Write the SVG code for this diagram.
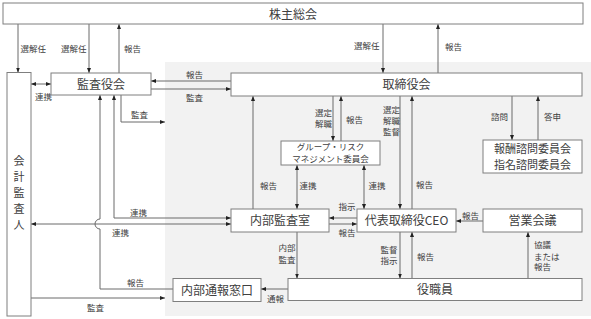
<svg xmlns="http://www.w3.org/2000/svg" width="591" height="319" viewBox="0 0 591 319">
<style>
.bx{fill:#fff;stroke:#7f7f7f;stroke-width:1}
.t{font-family:"Noto Sans CJK JP","Noto Sans",sans-serif;font-size:12px;fill:#404040;text-anchor:middle}
.v{font-size:11px}
.s{font-family:"Noto Sans CJK JP","Noto Sans",sans-serif;font-size:8.5px;fill:#404040}
.m{text-anchor:middle}
.c path{fill:none;stroke:#6a6a6a;stroke-width:1;marker-end:url(#a)}
.c path.d{marker-start:url(#a)}
</style>
<defs>
<marker id="a" viewBox="0 0 10 10" refX="10" refY="5" markerWidth="5" markerHeight="5" markerUnits="userSpaceOnUse" orient="auto-start-reverse">
<path d="M0,1 L10,5 L0,9 z" fill="#222"/>
</marker>
</defs>
<rect x="165" y="62" width="426" height="254" fill="#f2f2f2"/>
<g class="c" id="connectors">
<path d="M18,24 V72.5"/>
<path d="M89,24 V73"/>
<path d="M119,73 V24"/>
<path d="M383,24 V73"/>
<path d="M438,73 V24"/>
<path class="d" d="M31,84 H51"/>
<path d="M231,81 H151"/>
<path d="M151,89 H231"/>
<path d="M121,95 V122 H165"/>
<path d="M173,289 H100 V229 A5,5 0 0 1 100,219 V95"/>
<path class="d" d="M114,95 V218 H231"/>
<path class="d" d="M31,224 H231"/>
<path d="M253,209 V96"/>
<path d="M333,96 V141"/>
<path d="M341,141 V96"/>
<path d="M400,96 V209"/>
<path d="M412,209 V96"/>
<path d="M512,96 V140"/>
<path d="M538,140 V96"/>
<path class="d" d="M297,165 V209"/>
<path class="d" d="M364,165 V209"/>
<path d="M357,218 H329"/>
<path d="M329,224 H357"/>
<path d="M297,232 V278.5"/>
<path d="M400,232 V278.5"/>
<path d="M412,278.5 V232"/>
<path d="M483,221 H456"/>
<path d="M528,278.5 V232"/>
<path d="M288,289 H261"/>
<path d="M31,298 H165"/>
</g>
<g id="labels">
<text class="s" x="20.5" y="52">選解任</text>
<text class="s" x="61" y="52">選解任</text>
<text class="s" x="124" y="52">報告</text>
<text class="s" x="354" y="49">選解任</text>
<text class="s" x="445" y="50">報告</text>
<text class="s" x="35" y="100">連携</text>
<text class="s" x="186" y="78">報告</text>
<text class="s" x="186" y="101">監査</text>
<text class="s" x="131" y="118">監査</text>
<text class="s" x="260" y="189">報告</text>
<text class="s" x="315" y="116">選定</text>
<text class="s" x="315" y="127">解職</text>
<text class="s" x="346" y="123">報告</text>
<text class="s" x="383" y="113">選定</text>
<text class="s" x="383" y="124">解職</text>
<text class="s" x="383" y="135">監督</text>
<text class="s" x="416" y="188">報告</text>
<text class="s" x="491" y="120">諮問</text>
<text class="s" x="544" y="120">答申</text>
<text class="s" x="299.5" y="189">連携</text>
<text class="s" x="368.5" y="189">連携</text>
<text class="s" x="130" y="216">連携</text>
<text class="s" x="112" y="235.5">連携</text>
<text class="s" x="338.5" y="210">指示</text>
<text class="s" x="338.5" y="235.5">報告</text>
<text class="s" x="462" y="219">報告</text>
<text class="s" x="278.5" y="251">内部</text>
<text class="s" x="278.5" y="263">監査</text>
<text class="s" x="380.5" y="253">監督</text>
<text class="s" x="380.5" y="264">指示</text>
<text class="s" x="417" y="260">報告</text>
<text class="s" x="534" y="248">協議</text>
<text class="s" x="534" y="259.5">または</text>
<text class="s" x="534" y="270">報告</text>
<text class="s" x="127" y="286">報告</text>
<text class="s" x="267" y="302">通報</text>
<text class="s" x="87" y="311">監査</text>
</g>
<g id="shareholders"><rect class="bx" x="3" y="3" width="580" height="21"/><text class="t" x="293" y="18.5">株主総会</text></g>
<g id="auditor"><rect class="bx" x="7" y="72.5" width="24" height="243.5"/>
<text class="t v" x="19" y="165">会</text><text class="t v" x="19" y="181">計</text><text class="t v" x="19" y="197">監</text><text class="t v" x="19" y="213">査</text><text class="t v" x="19" y="229">人</text></g>
<g id="kansayakukai"><rect class="bx" x="51" y="73" width="100" height="22"/><text class="t" x="101" y="88.5">監査役会</text></g>
<g id="torishimariyakukai"><rect class="bx" x="231" y="73" width="351" height="23"/><text class="t" x="406.5" y="89">取締役会</text></g>
<g id="grouprisk"><rect class="bx" x="281" y="141" width="99" height="24"/>
<text class="s m" x="330.5" y="149.5">グループ・リスク</text><text class="s m" x="330.5" y="161.5">マネジメント委員会</text></g>
<g id="committees"><rect class="bx" x="483" y="140" width="99" height="33"/>
<text class="t v" x="532.5" y="152.5">報酬諮問委員会</text><text class="t v" x="532.5" y="168.5">指名諮問委員会</text></g>
<g id="naibukansa"><rect class="bx" x="231" y="209" width="98" height="23"/><text class="t" x="280" y="225">内部監査室</text></g>
<g id="ceo"><rect class="bx" x="357" y="209" width="99" height="23"/><text class="t" x="406.5" y="225">代表取締役CEO</text></g>
<g id="eigyokaigi"><rect class="bx" x="483" y="209" width="99" height="23"/><text class="t" x="532.5" y="225">営業会議</text></g>
<g id="hotline"><rect class="bx" x="173" y="278.5" width="88" height="23"/><text class="t" x="217" y="294.5">内部通報窓口</text></g>
<g id="employees"><rect class="bx" x="288" y="278.5" width="294" height="22"/><text class="t" x="435" y="294">役職員</text></g>
</svg>
